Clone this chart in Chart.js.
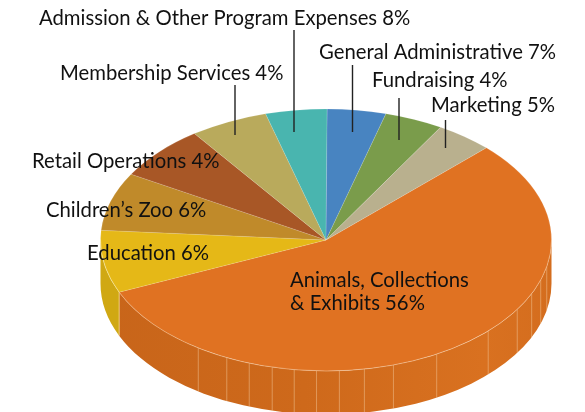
<!DOCTYPE html>
<html>
<head>
<meta charset="utf-8">
<style>html,body{margin:0;padding:0;background:#fff}canvas{display:block}</style>
<script src="https://cdn.jsdelivr.net/npm/chart.js@4/dist/chart.umd.min.js"></script>
</head>
<body>
<canvas id="c" width="585" height="412"></canvas>
<script>
const categories = ["Animals, Collections & Exhibits","Education","Children\u2019s Zoo","Retail Operations","Membership Services","Admission & Other Program Expenses","General Administrative","Fundraising","Marketing"];
const printedPercent = [56,6,6,4,4,8,7,4,5];
const sliceShares = [55.9,7.7,7.2,6.7,5.6,4.4,4.2,4.2,4.1];
const topColors = ["#e07222","#e5b817","#c08a2a","#a85726","#b9aa5c","#49b5af","#4884c1","#7a9c4b","#b9b08e"];
const facetAngles = [214.5,206.1,199.9,193.8,188.1,182.4,176.6,170.2,162.6,150.6,134,122,114.2,107.8,101.8];

const CX=326, CY=240, RX=225.5, RY=131, DEPTH=43.5;
const FONT='20.3px Lato';
const labelSpots=[
 {i:5,x:39,y:25},{i:4,x:60,y:80},{i:6,x:319,y:59},{i:7,x:372,y:87},{i:8,x:431,y:112},
 {i:3,x:32,y:168},{i:2,x:46,y:217},{i:1,x:87,y:260}
];
const leaders=[[294,30,132],[235,85,135],[352.5,65,132],[399,98,140],[445.5,120,148]];

function sideFill(ctx,i){
  if(i===0){const g=ctx.createLinearGradient(CX-RX,0,CX+RX,0);
    g.addColorStop(0,'#c8651a');g.addColorStop(.45,'#ce691b');g.addColorStop(.85,'#d97120');g.addColorStop(1,'#d46d1e');return g;}
  if(i===1){return '#d0a813';}
  return topColors[i];
}
const pie3d={
 id:'pie3d',
 beforeDatasetsDraw(chart){
  const ctx=chart.ctx, arcs=chart.getDatasetMeta(0).data;
  arcs.forEach((a,i)=>{
    const lo=Math.max(a.startAngle,0),hi=Math.min(a.endAngle,Math.PI);
    if(hi<=lo)return;
    ctx.save();
    ctx.beginPath();
    ctx.ellipse(CX,CY,RX,RY,0,lo,hi);
    ctx.ellipse(CX,CY+DEPTH,RX,RY,0,hi,lo,true);
    ctx.closePath();
    ctx.fillStyle=sideFill(ctx,i);
    ctx.fill();
    ctx.restore();
  });
  ctx.save();
  ctx.strokeStyle='rgba(245,205,160,.6)';ctx.lineWidth=.8;
  facetAngles.forEach(d=>{
    const t=(d-90)*Math.PI/180;
    const x=CX+RX*Math.cos(t), y=CY+RY*Math.sin(t);
    ctx.beginPath();ctx.moveTo(x,y);ctx.lineTo(x,y+DEPTH);ctx.stroke();
  });
  const b=arcs[0].endAngle;
  const bx=CX+RX*Math.cos(b),by=CY+RY*Math.sin(b);
  ctx.strokeStyle='rgba(250,235,170,.8)';
  ctx.beginPath();ctx.moveTo(bx,by);ctx.lineTo(bx,by+DEPTH);ctx.stroke();
  ctx.restore();
 },
 beforeDatasetDraw(chart){
  const ctx=chart.ctx,a=chart.getDatasetMeta(0).data[0];
  ctx.save();
  ctx.translate(CX,CY);
  ctx.scale(RX/a.outerRadius,RY/a.outerRadius);
  ctx.translate(-a.x,-a.y);
 },
 afterDatasetDraw(chart){chart.ctx.restore();},
 afterDraw(chart){
  const ctx=chart.ctx,arcs=chart.getDatasetMeta(0).data;
  ctx.save();
  ctx.strokeStyle='rgba(250,215,175,.5)';ctx.lineWidth=.7;
  ctx.beginPath();ctx.ellipse(CX,CY,RX,RY,0,0,arcs[0].endAngle);ctx.stroke();
  ctx.strokeStyle='rgba(250,240,180,.6)';
  ctx.beginPath();ctx.ellipse(CX,CY,RX,RY,0,arcs[1].startAngle,Math.PI);ctx.stroke();
  ctx.strokeStyle='#222';ctx.lineWidth=1.4;
  leaders.forEach(l=>{ctx.beginPath();ctx.moveTo(l[0],l[1]);ctx.lineTo(l[0],l[2]);ctx.stroke();});
  ctx.fillStyle='#111';ctx.font=FONT;ctx.textAlign='left';ctx.textBaseline='alphabetic';
  labelSpots.forEach(p=>ctx.fillText(categories[p.i]+' '+printedPercent[p.i]+'%',p.x,p.y));
  ctx.fillText('Animals, Collections',290,287);
  ctx.fillText('& Exhibits '+printedPercent[0]+'%',290,310);
  ctx.restore();
 }
};
new Chart(document.getElementById('c'),{
 type:'pie',
 data:{labels:categories,datasets:[{data:sliceShares,backgroundColor:topColors,borderColor:'rgba(255,255,255,.3)',borderWidth:.5,clip:false}]},
 options:{responsive:false,animation:false,rotation:45.3,layout:{padding:0},
  plugins:{legend:{display:false},tooltip:{enabled:false},title:{display:false}}},
 plugins:[pie3d]
});
</script>
</body>
</html>
